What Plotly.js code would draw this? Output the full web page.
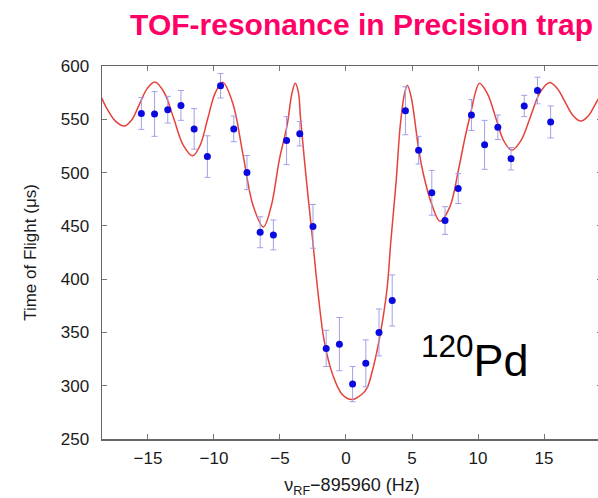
<!DOCTYPE html>
<html>
<head>
<meta charset="utf-8">
<script src="https://cdn.plot.ly/plotly-3.0.1.min.js"></script>
<style>
html,body{margin:0;padding:0;overflow:hidden;background:#fff;}
#chart{width:602px;height:498px;}
</style>
</head>
<body>
<div id="chart"></div>
<script>
// Measured data points (frequency offset in Hz, time of flight in µs, error in µs)
const freq = [-15.5,-14.5,-13.5,-12.5,-11.5,-10.5,-9.5,-8.5,-7.5,-6.5,-5.5,-4.5,-3.5,-2.5,-1.5,-0.5,
              0.5,1.5,2.5,3.5,4.5,5.5,6.5,7.5,8.5,9.5,10.5,11.5,12.5,13.5,14.5,15.5];
const tof = [555.5,555,559,563,541,515,581.5,541,500,444,441.5,530,536.5,449.5,335,339,
             301.5,321,350,380,558,521,481,455,485,554,526,542.5,513,562.5,577,547.5];
const err = [15,21,12.5,14,19,19.5,11.5,12,16,14.5,14,22.5,11.5,20.5,17,25,
             16.5,22,22,24,22.5,13,21,13,14,14.5,23,11.5,10.5,10,12.5,15];

// Fitted resonance curve
const fitX = [-19.5,-18.83,-18.15,-17.48,-16.8,-16.22,-15.64,-15.05,-14.47,-13.76,-13.04,-12.33,-11.61,
              -11.04,-10.48,-9.91,-9.34,-8.57,-7.8,-7.03,-6.26,-5.66,-5.05,-4.45,-4.1,-3.84,
              -3.6,-3.45,-3.0,-2.52,-2.1,-1.65,-1.0,-0.3,0.45,1.2,1.6,2.0,2.5,3.1,3.4,3.8,4.1,4.4,4.65,
              4.95,5.2,5.48,5.89,6.5,7.12,7.87,8.51,9.0,9.52,9.8,10.1,10.71,11.33,11.94,12.55,
              13.26,13.98,14.69,15.4,16.0,16.59,17.19,17.78,18.38,18.98,19.58];
const fitY = [584,577,561,548.5,543.6,549.6,564.3,579,585,574.9,550.4,525.8,515.7,
              525.8,550.2,574.6,584.7,564.9,516.9,468.8,449,468.7,512,545,574,583.7,
              575,552,493,436,385,342,310,292,287,292,298,314,342,390,436,492,543,572,582,
              570,550,524,497,470,454.3,468,502,532,560,575,583.7,574,552,530,521,
              530.3,552.7,575.1,584.4,579,566.4,553.6,548.3,553.6,566.4,579];

const xTicks = [-15,-10,-5,0,5,10,15];
const yTicks = [250,300,350,400,450,500,550,600];

const font = 'Liberation Sans, Arial, sans-serif';

const traces = [
  {
    x: fitX, y: fitY, type: 'scatter', mode: 'lines',
    line: {color: '#e5423c', width: 1.5, shape: 'spline', smoothing: 1.0},
    hoverinfo: 'skip', showlegend: false
  },
  {
    x: freq, y: tof, type: 'scatter', mode: 'markers',
    marker: {color: '#0a0ae0', size: 7},
    error_y: {type: 'data', array: err, visible: true, color: '#a0a0e8', thickness: 1, width: 3},
    showlegend: false
  }
];

const axisCommon = {
  showgrid: false, zeroline: false, showline: true, linecolor: '#666', linewidth: 1.5,
  mirror: 'ticks', ticks: 'inside', ticklen: 5, tickcolor: '#777', tickwidth: 1,
  tickfont: {family: font, size: 17, color: '#1a1a1a'}
};

const layout = {
  width: 602, height: 498,
  margin: {l: 102, r: 0, t: 66, b: 59},
  paper_bgcolor: '#fff', plot_bgcolor: '#fff',
  title: {
    text: '<b>TOF-resonance in Precision trap</b>',
    font: {family: font, size: 30, color: '#ff0066'},
    xref: 'container', x: 593/602, xanchor: 'right',
    yref: 'container', y: 1 - 24/498, yanchor: 'middle'
  },
  xaxis: Object.assign({}, axisCommon, {
    range: [-18.48, 19.39], tickvals: xTicks, ticktext: xTicks.map(v => v < 0 ? '\u2212' + Math.abs(v) : String(v)),
    ticklabelstandoff: 3,
    title: {text: '\u03bd<sub>RF</sub>\u2212895960 (Hz)', font: {family: font, size: 18, color: '#1a1a1a'}, standoff: 12}
  }),
  yaxis: Object.assign({}, axisCommon, {
    range: [250, 600], tickvals: yTicks, ticktext: yTicks.map(String),
    ticklabelstandoff: 8,
    title: {text: 'Time of Flight (\u03bcs)', font: {family: font, size: 17, color: '#1a1a1a'}, standoff: 20}
  }),
  annotations: [{
    text: '<sup>120</sup>Pd', xref: 'paper', yref: 'paper', x: 0.745, y: 0.22,
    xanchor: 'center', yanchor: 'middle', showarrow: false,
    font: {family: font, size: 45, color: '#000'}
  }]
};

Plotly.newPlot('chart', traces, layout, {displayModeBar: false, staticPlot: true});
</script>
</body>
</html>
